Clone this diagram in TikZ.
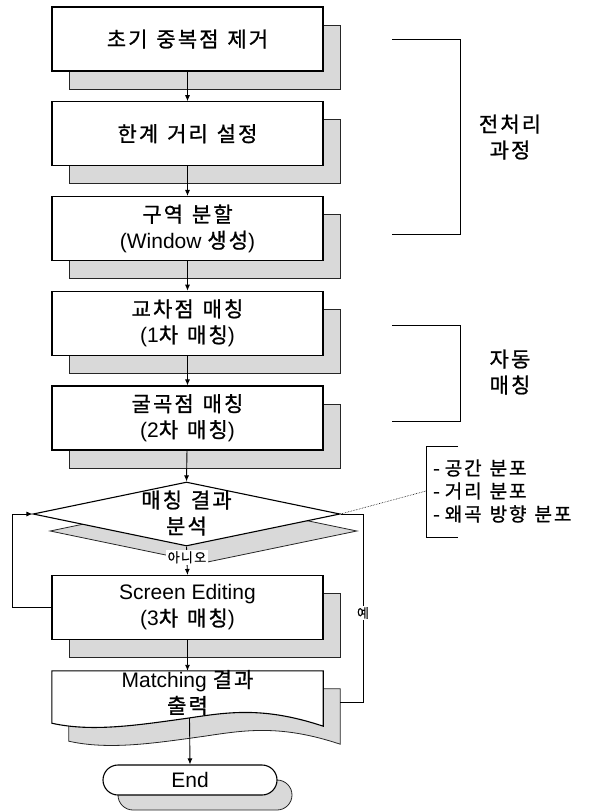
\documentclass[tikz,border=0pt]{standalone}
\usepackage{fontspec}
\setmainfont{Liberation Sans}
\newfontfamily\kr[LetterSpace=10,WordSpace=1.3,FakeBold=1]{Noto Sans CJK KR}
\usetikzlibrary{arrows.meta,shapes.geometric,calc}
\newcommand\myfs{\fontsize{21}{26}\selectfont}
\newcommand\mysmall{\fontsize{13}{15}\selectfont}
\begin{document}
\begin{tikzpicture}[x=1pt,y=-1pt,
  box/.style={draw=black, line width=1.1pt, fill=white, minimum width=271pt, minimum height=64pt, inner sep=0pt, align=center, font=\myfs},
  shd/.style={draw=black!85, line width=0.8pt, fill=gray!30, minimum width=271pt, minimum height=64pt, inner sep=0pt},
  arr/.style={line width=0.9pt, -{Latex[length=6pt,width=5pt]}},
  ln/.style={line width=0.9pt},
  lbl/.style={align=center, font=\myfs, inner sep=0pt},
  tag/.style={fill=white, inner sep=1.5pt, font=\mysmall}]
\useasboundingbox (0,0) rectangle (594,811);
% shadows
\node[shd] (s1) at (204.5,57) {};
\node[shd] (s2) at (204.5,151.75) {};
\node[shd] (s3) at (204.5,246.5) {};
\node[shd] (s4) at (204.5,341.25) {};
\node[shd] (s5) at (204.5,436) {};
\node[shd, diamond, minimum width=307pt, minimum height=64pt] (sd) at (203.5,531) {};
\node[shd] (s6) at (204.5,625.5) {};
\node[minimum width=271pt, minimum height=47pt, inner sep=0pt] (s7) at (204.5,712.5) {};
\draw[draw=black!85, line width=0.8pt, fill=gray!30] (s7.north west) -- (s7.north east) -- ($(s7.south east)+(0,8)$) .. controls ($(s7.south east)+(-60,-12)$) and ($(s7.south)+(40,-6)$) .. (s7.south) .. controls ($(s7.south)+(-50,7)$) and ($(s7.south west)+(40,14)$) .. ($(s7.south west)+(0,5)$) -- cycle;
\node[shd, rounded corners=15pt, minimum width=174pt, minimum height=30pt] (s8) at (205,795) {};
% boxes
\node[box] (b1) at (187.5,39) {{\kr 초기 중복점 제거}};
\node[box] (b2) at (187.5,133.75) {{\kr 한계 거리 설정}};
\node[box] (b3) at (187.5,228.5) {{\kr 구역 분할}\\(Window {\kr 생성})};
\node[box] (b4) at (187.5,323.25) {{\kr 교차점 매칭}\\(1{\kr 차 매칭})};
\node[box] (b5) at (187.5,418) {{\kr 굴곡점 매칭}\\(2{\kr 차 매칭})};
\node[draw=black, line width=1.1pt, fill=white, diamond, minimum width=307pt, minimum height=64pt, inner sep=0pt] (d) at (186.5,514) {};
\node[lbl] (dt) at (186.5,513) {{\kr 매칭 결과}\\{\kr 분석}};
\node[box] (b6) at (187.5,607.5) {Screen Editing\\(3{\kr 차 매칭})};
\node[minimum width=271pt, minimum height=47pt, inner sep=0pt] (b7) at (187.5,694.5) {};
\draw[line width=1.1pt, fill=white] (b7.north west) -- (b7.north east) -- ($(b7.south east)+(0,8)$) .. controls ($(b7.south east)+(-60,-12)$) and ($(b7.south)+(40,-6)$) .. (b7.south) .. controls ($(b7.south)+(-50,7)$) and ($(b7.south west)+(40,14)$) .. ($(b7.south west)+(0,5)$) -- cycle;
\node[lbl] (b7t) at ([yshift=2pt]b7.center) {Matching {\kr 결과}\\{\kr 출력}};
\node[box, rounded corners=15pt, minimum width=174pt, minimum height=30pt] (e) at (190,780) {End};
% connectors
\draw[arr] (b1) -- (b2);
\draw[arr] (b2) -- (b3);
\draw[arr] (b3) -- (b4);
\draw[arr] (b4) -- (b5);
\draw[arr] (b5) -- (d.north);
\draw[arr] (d.south) -- node[tag, pos=0.38] {\kr 아니오} (b6.north);
\draw[arr] (b6) -- (b7);
\draw[arr] ($(b7.south)+(2,0)$) -- (e.north);
\draw[arr] (b6.west) -- ++(-39,0) |- (d.west);
\draw[ln] (d.east) -- ++(23,0) |- ([yshift=10pt]s7.east);
\node[tag] (yes) at (363,613) {\kr 예};
% brackets
\draw[ln] (392,39) -- (460,39) -- (460,234) -- (392,234);
\node[lbl] (t1) at (510,137) {{\kr 전처리}\\{\kr 과정}};
\draw[ln] (392,325) -- (460,325) -- (460,421) -- (392,421);
\node[lbl] (t2) at (510,372) {{\kr 자동}\\{\kr 매칭}};
\draw[ln] (458,446) -- (426,446) -- (426,537) -- (458,537);
\coordinate (br3) at (426,491);
\node[anchor=west, align=left, inner sep=0pt, font=\fontsize{19}{23}\selectfont] (t3) at (433,491) {{\kr -\hspace{5pt}공간 분포}\\{\kr -\hspace{5pt}거리 분포}\\{\kr -\hspace{5pt}왜곡 방향 분포}};
\draw[densely dotted, line width=0.6pt] (d.east) -- (br3);
\end{tikzpicture}
\end{document}
